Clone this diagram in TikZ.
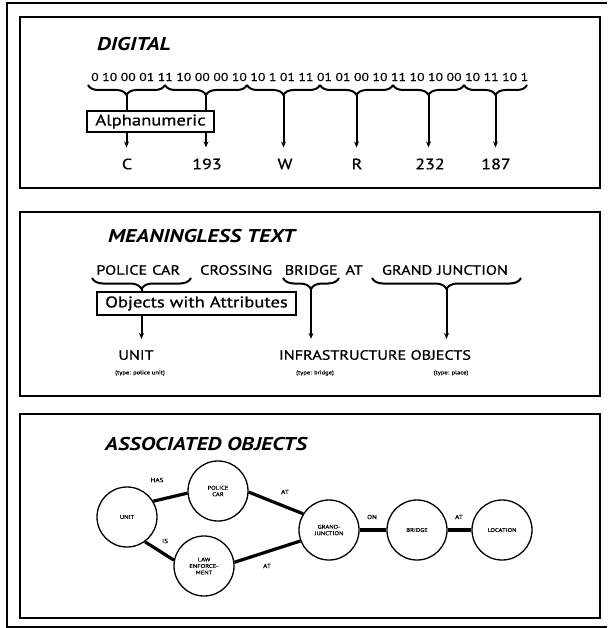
\documentclass[tikz,border=0pt]{standalone}
\usepackage{fontspec}
\setmainfont{PT Sans}[FakeStretch=1.2]
\newfontfamily\semib{PT Sans}[FakeStretch=1.2,FakeBold=0.7]
\usetikzlibrary{decorations.pathreplacing,arrows.meta,calc}
\newcommand\wslot[3][c]{\makebox[#2pt][#1]{#3}}
\begin{document}
\begin{tikzpicture}[x=1pt,y=-1pt,
  frameline/.style={line width=1.6pt},
  panel/.style={draw, line width=1.6pt},
  ttl/.style={font=\bfseries\itshape\fontsize{18.5}{18.5}\selectfont, anchor=west, inner sep=0},
  brc/.style={decorate, decoration={brace, mirror, amplitude=#1}, line width=2pt},
  brc/.default=10pt,
  arr/.style={-{Stealth[length=6pt,width=5pt]}, line width=2pt},
  lbl/.style={font=\semib\fontsize{15}{15}\selectfont, inner sep=0},
  lbls/.style={font=\semib\fontsize{13.5}{13.5}\selectfont, inner sep=0},
  tinytxt/.style={font=\semib\fontsize{5.5}{6}\selectfont, inner sep=0},
  obj/.style={circle, draw, line width=1.3pt, minimum size=60pt, inner sep=0, align=center, font=\semib\fontsize{5.5}{6.5}\selectfont},
  link/.style={line width=3.2pt},
  elbl/.style={font=\semib\fontsize{6}{6}\selectfont, inner sep=0},
  boxed/.style={draw, line width=1.4pt, fill=white, inner sep=0, font=\semib\fontsize{15.5}{15.5}\selectfont}
]
\useasboundingbox (0,0) rectangle (607,628);
% outer frame
\draw[frameline] (7,628) -- (7,3) -- (607,3);
\draw[frameline] (7,627) -- (607,627);
% panels
\node[panel, minimum width=580pt, minimum height=171pt, inner sep=0] (p1) at (310,102.5) {};
\node[panel, minimum width=580pt, minimum height=184pt, inner sep=0] (p2) at (310,304) {};
\node[panel, minimum width=580pt, minimum height=204pt, inner sep=0] (p3) at (310,516) {};

% ---------- DIGITAL ----------
\node[ttl] (tdig) at (97,44) {DIGITAL};
\node[inner sep=0, anchor=west, font=\semib\fontsize{11.5}{11.5}\selectfont] (bits) at (91,77)
  {\makebox[437pt][s]{0 10 00 01 11 10 00 00 10 10 1 01 11 01 01 00 10 11 10 10 00 10 11 10 1}};
\foreach \i/\x in {0/88,1/165,2/247,3/320,4/393,5/464,6/527}{
  \coordinate (b\i) at (\x,85);
}
\foreach \a/\b in {0/1,1/2,2/3,3/4,4/5,5/6}{
  \draw[brc] (b\a) -- (b\b);
  \coordinate (t\b) at ($(b\a)!0.5!(b\b)+(0,10)$);
}
\node[lbl] (lC) at (127,164) {C};
\node[lbl] (l193) at (207,164) {193};
\node[lbl] (lW) at (285,164) {W};
\node[lbl] (lR) at (357,164) {R};
\node[lbl] (l232) at (430,164) {232};
\node[lbl] (l187) at (496,164) {187};
\draw[arr] (t1) -- ([yshift=11pt]t1 |- lC.north);
\draw[arr] (t2) -- ([yshift=11pt]t2 |- l193.north);
\draw[arr] (t3) -- ([yshift=11pt]t3 |- lW.north);
\draw[arr] (t4) -- ([yshift=11pt]t4 |- lR.north);
\draw[arr] (t5) -- ([yshift=11pt]t5 |- l232.north);
\draw[arr] (t6) -- ([yshift=11pt]t6 |- l187.north);
\node[boxed, minimum width=127pt, minimum height=21pt] (alpha) at (150.5,121.5) {Alphanumeric};

% ---------- MEANINGLESS TEXT ----------
\node[ttl] (tmt) at (108,236) {MEANINGLESS TEXT};
\node[inner sep=0, anchor=west, font=\semib\fontsize{13.5}{13.5}\selectfont] (sent) at (98,270)
  {\wslot[r]{49}{POLICE}\hspace{5pt}\wslot[l]{35}{CAR}\hspace{10pt}\wslot{78}{CROSSING}\hspace{12pt}%
   \wslot{48}{BRIDGE}\hspace{10pt}\wslot{18}{AT}\hspace{14pt}\wslot[r]{55}{GRAND}\hspace{5pt}\wslot[l]{83}{JUNCTION}};
\coordinate (s0) at (92,278);  \coordinate (s1) at (191,278);
\coordinate (s2) at (283,278); \coordinate (s3) at (339,278);
\coordinate (s4) at (372,278); \coordinate (s5) at (521,278);
\draw[brc=11pt] (s0) -- (s1);
\draw[brc=11pt] (s2) -- (s3);
\draw[brc=11pt] (s4) -- (s5);
\coordinate (u1) at ($(s0)!0.5!(s1)+(0,11)$);
\coordinate (u2) at ($(s2)!0.5!(s3)+(0,11)$);
\coordinate (u3) at ($(s4)!0.5!(s5)+(0,11)$);
\node[lbls] (unit) at (136,355) {UNIT};
\node[lbls] (infra) at (375,355) {INFRASTRUCTURE OBJECTS};
\draw[arr] (u1) -- ([yshift=11pt]u1 |- unit.north);
\draw[arr] (u2) -- ([yshift=11pt]u2 |- infra.north);
\draw[arr] (u3) -- ([yshift=11pt]u3 |- infra.north);
\node[boxed, minimum width=199pt, minimum height=23pt] (owa) at (196.5,303.5) {Objects with Attributes};
\node[tinytxt] (ty1) at (140,373) {(type: police unit)};
\node[tinytxt] (ty2) at (315,373) {(type: bridge)};
\node[tinytxt] (ty3) at (451,373) {(type: place)};

% ---------- ASSOCIATED OBJECTS ----------
\node[ttl] (tao) at (105,444) {ASSOCIATED OBJECTS};
\node[obj] (cu) at (127,517) {UNIT};
\node[obj] (cp) at (218,491) {POLICE\\CAR};
\node[obj] (cl) at (204,566) {LAW\\ENFORCE-\\MENT};
\node[obj] (cg) at (329,530) {GRAND-\\JUNCTION};
\node[obj] (cb) at (417,530) {BRIDGE};
\node[obj] (cloc) at (502,530) {LOCATION};
\draw[link] (cu.31) -- (cp.184);
\draw[link] (cp.358) -- (cg.148);
\draw[link] (cu.306) -- (cl.169);
\draw[link] (cl.7) -- (cg.201);
\draw[link] (cg) -- (cb);
\draw[link] (cb) -- (cloc);
\node[elbl] (e1) at (157,480) {HAS};
\node[elbl] (e2) at (285,492) {AT};
\node[elbl] (e3) at (165,541) {IS};
\node[elbl] (e4) at (267,566) {AT};
\node[elbl] (e5) at (372,517) {ON};
\node[elbl] (e6) at (459,517) {AT};
\end{tikzpicture}
\end{document}
